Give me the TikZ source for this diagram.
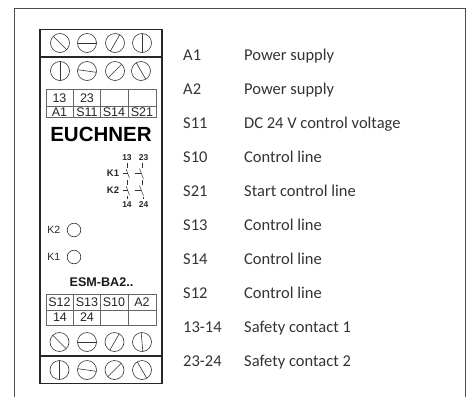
\documentclass[tikz,border=0pt]{standalone}
\usepackage{fontspec}
\setmainfont{Carlito}
\setsansfont{Liberation Sans}
\tikzset{
	listtext/.style={anchor=base west, inner sep=0pt, text=black!80, font=\fontsize{16.5}{17}\selectfont},
	celltext/.style={inner sep=0pt, text=black!85, font=\sffamily\fontsize{12.5}{13}\selectfont},
	smalltext/.style={inner sep=0pt, text=black!85, font=\sffamily\bfseries\fontsize{8.5}{9}\selectfont},
	screw/.style={draw=black!80, line width=0.6pt},
	frameline/.style={draw=black!70, line width=1pt},
	caseline/.style={draw=black!85, line width=1.2pt},
	cellline/.style={draw=black!60, line width=0.7pt},
	contactline/.style={draw=black!80, line width=0.5pt},
}
\begin{document}
\begin{tikzpicture}[x=1pt, y=-1pt]
		\useasboundingbox (0,0) rectangle (471,397);
		% outer frame, open at the bottom
		\draw[frameline] (14.5,397) -- (14.5,8.5) -- (465.5,8.5) -- (465.5,397);
		% device housing
		\draw[caseline] (40,29.5) rectangle (162,383.5);
		\draw[caseline] (40,57) -- (162,57);
		\draw[caseline] (40,356) -- (162,356);
		% screw terminals
		\foreach \x/\a in {60/45,87/0,115/-60,142/90} {
			\draw[screw] (\x,43) circle (9.5);
			\draw[screw] (\x,43) ++(\a:9.5) -- ++(\a:-19);
		}
		\foreach \x/\a in {60/90,87/8,115/-45,141/60} {
			\draw[screw] (\x,71) circle (9.5);
			\draw[screw] (\x,71) ++(\a:9.5) -- ++(\a:-19);
		}
		\foreach \x/\a in {59.5/45,87/0,114.5/-60,142/85} {
			\draw[screw] (\x,342) circle (9.5);
			\draw[screw] (\x,342) ++(\a:9.5) -- ++(\a:-19);
		}
		\foreach \x/\a in {59.5/90,87/8,114.5/-45,142/60} {
			\draw[screw] (\x,370) circle (9.5);
			\draw[screw] (\x,370) ++(\a:9.5) -- ++(\a:-19);
		}
		% terminal tables
		\draw[cellline] (46,89.5) rectangle (156,117);
		\draw[cellline] (46,106.5) -- (156,106.5);
		\foreach \x in {73,100.5,128} \draw[cellline] (\x,89.5) -- (\x,117);
		\draw[cellline] (46,294) rectangle (156,325);
		\draw[cellline] (46,310) -- (156,310);
		\foreach \x in {73,100.5,128} \draw[cellline] (\x,294) -- (\x,325);
		\node[celltext] (top13) at (59.5,98) {13};
		\node[celltext] (top23) at (87,98) {23};
		\node[celltext] (topA1) at (59.5,112) {A1};
		\node[celltext] (topS11) at (87,112) {S11};
		\node[celltext] (topS14) at (114,112) {S14};
		\node[celltext] (topS21) at (142,112) {S21};
		\node[celltext] (botS12) at (59.5,302) {S12};
		\node[celltext] (botS13) at (87,302) {S13};
		\node[celltext] (botS10) at (114,302) {S10};
		\node[celltext] (botA2) at (142,302) {A2};
		\node[celltext] (bot14) at (60,317.5) {14};
		\node[celltext] (bot24) at (87,317.5) {24};
		% brand and type
		\node[inner sep=0pt, font=\sffamily\bfseries\fontsize{20.5}{21}\selectfont] (brand) at (101,134) {EUCHNER};
		\node[inner sep=0pt, text=black!90, font=\sffamily\bfseries\fontsize{12.6}{13}\selectfont] (type) at (101.5,282) {ESM-BA2..};
		% contact symbol
		\node[smalltext] (c13) at (127,158) {13};
		\node[smalltext] (c23) at (143.5,158) {23};
		\node[smalltext] (c14) at (127,205) {14};
		\node[smalltext] (c24) at (143.5,205) {24};
		\node[smalltext, font=\sffamily\bfseries\fontsize{9.5}{10}\selectfont] (k1) at (113,173) {K1};
		\node[smalltext, font=\sffamily\bfseries\fontsize{9.5}{10}\selectfont] (k2) at (113,190) {K2};
		\foreach \y in {163,180} {
			\draw[contactline] (127.3,\y) -- (127.3,\y+5);
			\draw[contactline] (126,\y+6) -- (129.5,\y+15);
			\draw[contactline] (123,\y+10) -- (128,\y+10);
			\draw[contactline] (142,\y) -- (142,\y+5);
			\draw[contactline] (139.5,\y+5.5) -- (143.5,\y+16);
			\draw[contactline] (134.5,\y+10) -- (140.5,\y+10);
		}
		\draw[contactline] (127.3,196) -- (127.3,199);
		\draw[contactline] (143.5,197) -- (143.5,199);
		% LEDs
		\node[celltext, font=\sffamily\fontsize{10.5}{11}\selectfont] (k2led) at (53.7,230) {K2};
		\node[celltext, font=\sffamily\fontsize{10.5}{11}\selectfont] (k1led) at (53.7,257) {K1};
		\draw[screw] (74,230) circle (6.8);
		\draw[screw] (74,257) circle (6.8);
		% legend
		\foreach \y/\t/\d in {60/A1/Power supply,94/A2/Power supply,128/S11/DC 24 V control voltage,162/S10/Control line,196/S21/Start control line,230/S13/Control line,264/S14/Control line,298/S12/Control line,332/13-14/Safety contact 1,366/23-24/Safety contact 2} {
			\node[listtext] at (183,\y) {\t};
			\node[listtext] at (244,\y) {\d};
		}
	\end{tikzpicture}
\end{document}
